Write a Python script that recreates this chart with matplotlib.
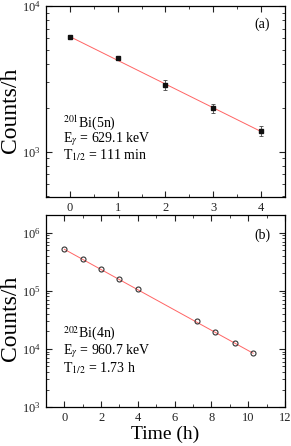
import numpy as np
import matplotlib
matplotlib.use("Agg")
import matplotlib.pyplot as plt
from matplotlib.ticker import LogLocator, MultipleLocator, NullFormatter

plt.rcParams['font.family'] = ['Liberation Serif', 'DejaVu Serif']
plt.rcParams['mathtext.fontset'] = 'stix'

# panel (a): 201Bi(5n), 629.1 keV
t_a = [0, 1, 2, 3, 4]
counts_a = [6170, 4380, 2870, 1990, 1390]
err_a = [170, 130, 220, 140, 110]
half_a = 111 / 60.0  # h

# panel (b): 202Bi(4n), 960.7 keV
t_b = [0, 1, 2, 3, 4, 7.22, 8.22, 9.26, 10.27]
counts_b = [5.15e5, 3.51e5, 2.33e5, 1.57e5, 1.06e5, 2.96e4, 1.93e4, 1.28e4, 8.6e3]
half_b = 1.73  # h

fig = plt.figure(figsize=(2.91, 4.46), dpi=100)
ax1 = fig.add_axes([0.158, 0.5583, 0.821, 0.4282])
ax2 = fig.add_axes([0.158, 0.0874, 0.821, 0.4305])

linec = '#ff6464'
fs_txt = 10

def style(ax):
    ax.tick_params(which='both', direction='in', top=True, right=True, labelsize=9, colors='#222222')
    ax.tick_params(which='major', length=4, width=0.8)
    ax.tick_params(which='minor', length=2, width=0.6)
    for s in ax.spines.values():
        s.set_linewidth(0.9)
    ax.yaxis.set_minor_locator(LogLocator(base=10, subs=np.arange(2, 10), numticks=20))
    ax.yaxis.set_minor_formatter(NullFormatter())

# (a)
tt = np.linspace(0, 4, 50)
ax1.plot(tt, counts_a[0] * 2 ** (-tt / half_a), color=linec, lw=0.7, zorder=1)
ax1.errorbar(t_a, counts_a, yerr=err_a, fmt='s', ms=3.2, color='#111111',
             ecolor='#444444', elinewidth=0.6, capsize=1.5, capthick=0.6, zorder=3)
ax1.set_yscale('log')
ax1.set_xlim(-0.5, 4.5)
ax1.set_ylim(490, 1e4)
ax1.xaxis.set_major_locator(MultipleLocator(1))
ax1.xaxis.set_minor_locator(MultipleLocator(0.5))
style(ax1)
ax1.set_ylabel('Counts/h', fontsize=17)
ax1.yaxis.set_label_coords(-0.105, 0.455)
ax1.text(0.071, 0.39, r'$^{201}$Bi(5n)', transform=ax1.transAxes, fontsize=fs_txt, va='center')
ax1.text(0.071, 0.302, r'E$_{\gamma}$ = 629.1 keV', transform=ax1.transAxes, fontsize=fs_txt, va='center')
ax1.text(0.071, 0.218, r'T$_{1/2}$ = 111 min', transform=ax1.transAxes, fontsize=fs_txt, va='center')
ax1.text(0.905, 0.905, '(a)', transform=ax1.transAxes, fontsize=fs_txt, ha='center', va='center')

# (b)
tt = np.linspace(0, t_b[-1], 50)
ax2.plot(tt, counts_b[0] * 2 ** (-tt / half_b), color=linec, lw=0.7, zorder=1)
ax2.plot(t_b, counts_b, 'o', ms=3.6, mfc='none', mec='#333333', mew=0.8, zorder=3)
ax2.set_yscale('log')
ax2.set_xlim(-1, 12)
ax2.set_ylim(1e3, 2e6)
ax2.xaxis.set_major_locator(MultipleLocator(2))
ax2.xaxis.set_minor_locator(MultipleLocator(1))
style(ax2)
ax2.set_ylabel('Counts/h', fontsize=17)
ax2.yaxis.set_label_coords(-0.105, 0.46)
ax2.set_xlabel('Time (h)', fontsize=14)
ax2.xaxis.set_label_coords(0.5, -0.095)
ax2.text(0.071, 0.38, r'$^{202}$Bi(4n)', transform=ax2.transAxes, fontsize=fs_txt, va='center')
ax2.text(0.071, 0.29, r'E$_{\gamma}$ = 960.7 keV', transform=ax2.transAxes, fontsize=fs_txt, va='center')
ax2.text(0.071, 0.205, r'T$_{1/2}$ = 1.73 h', transform=ax2.transAxes, fontsize=fs_txt, va='center')
ax2.text(0.905, 0.895, '(b)', transform=ax2.transAxes, fontsize=fs_txt, ha='center', va='center')

fig.savefig('out.png', dpi=100)
